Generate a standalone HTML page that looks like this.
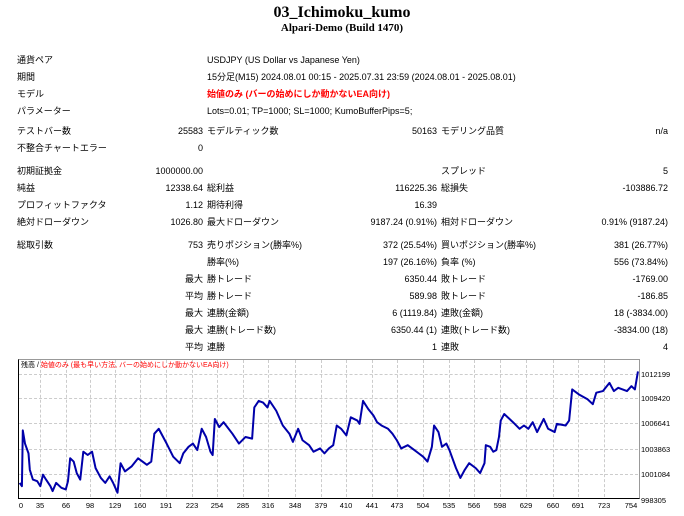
<!DOCTYPE html>
<html><head><meta charset="utf-8"><style>
body{margin:0;width:684px;height:516px;background:#fff;position:relative;overflow:hidden;font-family:"Liberation Sans","Noto Sans CJK JP",sans-serif;font-size:9px;color:#000}
.t{position:absolute;white-space:nowrap;line-height:11px}
.r{position:absolute;white-space:nowrap;line-height:11px;text-align:right}
.red{color:#f00}
.g{position:absolute;border-color:#ccc;border-style:dashed;border-width:0}
</style></head><body>
<div class="t" style="left:0;width:684px;text-align:center;top:4px;font-family:'Liberation Serif',serif;font-weight:bold;font-size:16px;line-height:18px">03_Ichimoku_kumo</div>
<div class="t" style="left:0;width:684px;text-align:center;top:22px;font-family:'Liberation Serif',serif;font-weight:bold;font-size:11px;line-height:12px">Alpari-Demo (Build 1470)</div>

<div class="t" style="left:17px;top:55px">通貨ペア</div><div class="t" style="left:207px;top:55px">USDJPY (US Dollar vs Japanese Yen)</div>
<div class="t" style="left:17px;top:72px">期間</div><div class="t" style="left:207px;top:72px">15分足(M15) 2024.08.01 00:15 - 2025.07.31 23:59 (2024.08.01 - 2025.08.01)</div>
<div class="t" style="left:17px;top:89px">モデル</div><div class="t red" style="left:207px;top:89px;font-weight:bold">始値のみ (バーの始めにしか動かないEA向け)</div>
<div class="t" style="left:17px;top:106px">パラメーター</div><div class="t" style="left:207px;top:106px">Lots=0.01; TP=1000; SL=1000; KumoBufferPips=5;</div>

<div class="t" style="left:17px;top:126px">テストバー数</div><div class="r" style="right:481px;top:126px">25583</div>
<div class="t" style="left:207px;top:126px">モデルティック数</div><div class="r" style="right:247px;top:126px">50163</div>
<div class="t" style="left:441px;top:126px">モデリング品質</div><div class="r" style="right:16px;top:126px">n/a</div>
<div class="t" style="left:17px;top:143px">不整合チャートエラー</div><div class="r" style="right:481px;top:143px">0</div>

<div class="t" style="left:17px;top:166px">初期証拠金</div><div class="r" style="right:481px;top:166px">1000000.00</div>
<div class="t" style="left:441px;top:166px">スプレッド</div><div class="r" style="right:16px;top:166px">5</div>
<div class="t" style="left:17px;top:183px">純益</div><div class="r" style="right:481px;top:183px">12338.64</div>
<div class="t" style="left:207px;top:183px">総利益</div><div class="r" style="right:247px;top:183px">116225.36</div>
<div class="t" style="left:441px;top:183px">総損失</div><div class="r" style="right:16px;top:183px">-103886.72</div>
<div class="t" style="left:17px;top:200px">プロフィットファクタ</div><div class="r" style="right:481px;top:200px">1.12</div>
<div class="t" style="left:207px;top:200px">期待利得</div><div class="r" style="right:247px;top:200px">16.39</div>
<div class="t" style="left:17px;top:217px">絶対ドローダウン</div><div class="r" style="right:481px;top:217px">1026.80</div>
<div class="t" style="left:207px;top:217px">最大ドローダウン</div><div class="r" style="right:247px;top:217px">9187.24 (0.91%)</div>
<div class="t" style="left:441px;top:217px">相対ドローダウン</div><div class="r" style="right:16px;top:217px">0.91% (9187.24)</div>

<div class="t" style="left:17px;top:240px">総取引数</div><div class="r" style="right:481px;top:240px">753</div>
<div class="t" style="left:207px;top:240px">売りポジション(勝率%)</div><div class="r" style="right:247px;top:240px">372 (25.54%)</div>
<div class="t" style="left:441px;top:240px">買いポジション(勝率%)</div><div class="r" style="right:16px;top:240px">381 (26.77%)</div>
<div class="t" style="left:207px;top:257px">勝率(%)</div><div class="r" style="right:247px;top:257px">197 (26.16%)</div>
<div class="t" style="left:441px;top:257px">負率 (%)</div><div class="r" style="right:16px;top:257px">556 (73.84%)</div>
<div class="r" style="right:481px;top:274px">最大</div><div class="t" style="left:207px;top:274px">勝トレード</div><div class="r" style="right:247px;top:274px">6350.44</div>
<div class="t" style="left:441px;top:274px">敗トレード</div><div class="r" style="right:16px;top:274px">-1769.00</div>
<div class="r" style="right:481px;top:291px">平均</div><div class="t" style="left:207px;top:291px">勝トレード</div><div class="r" style="right:247px;top:291px">589.98</div>
<div class="t" style="left:441px;top:291px">敗トレード</div><div class="r" style="right:16px;top:291px">-186.85</div>
<div class="r" style="right:481px;top:308px">最大</div><div class="t" style="left:207px;top:308px">連勝(金額)</div><div class="r" style="right:247px;top:308px">6 (1119.84)</div>
<div class="t" style="left:441px;top:308px">連敗(金額)</div><div class="r" style="right:16px;top:308px">18 (-3834.00)</div>
<div class="r" style="right:481px;top:325px">最大</div><div class="t" style="left:207px;top:325px">連勝(トレード数)</div><div class="r" style="right:247px;top:325px">6350.44 (1)</div>
<div class="t" style="left:441px;top:325px">連敗(トレード数)</div><div class="r" style="right:16px;top:325px">-3834.00 (18)</div>
<div class="r" style="right:481px;top:342px">平均</div><div class="t" style="left:207px;top:342px">連勝</div><div class="r" style="right:247px;top:342px">1</div>
<div class="t" style="left:441px;top:342px">連敗</div><div class="r" style="right:16px;top:342px">4</div>

<!-- chart frame -->
<div style="position:absolute;left:18px;top:359px;width:620px;height:138px;border:1px solid #000;border-top-color:#999;border-right-color:#999"></div>
<div class="g" style="left:19px;width:619px;top:374px;border-top-width:1px"></div>
<div class="g" style="left:19px;width:619px;top:398px;border-top-width:1px"></div>
<div class="g" style="left:19px;width:619px;top:423px;border-top-width:1px"></div>
<div class="g" style="left:19px;width:619px;top:449px;border-top-width:1px"></div>
<div class="g" style="left:19px;width:619px;top:474px;border-top-width:1px"></div>
<div id="vg"></div>
<div class="t" style="left:21px;top:361px;font-size:7px;line-height:9px">残高 / <span class="red">始値のみ (最も早い方法, バーの始めにしか動かないEA向け)</span></div>
<div class="t" style="left:641px;top:369px;font-size:7.5px">1012199</div>
<div class="t" style="left:641px;top:393px;font-size:7.5px">1009420</div>
<div class="t" style="left:641px;top:418px;font-size:7.5px">1006641</div>
<div class="t" style="left:641px;top:444px;font-size:7.5px">1003863</div>
<div class="t" style="left:641px;top:469px;font-size:7.5px">1001084</div>
<div class="t" style="left:641px;top:495px;font-size:7.5px">998305</div>
<div id="xl"></div>
<svg style="position:absolute;left:0;top:355px" width="684" height="161" viewBox="0 0 1560 491" preserveAspectRatio="none">
<polyline fill="none" stroke="#0000aa" stroke-width="2" vector-effect="non-scaling-stroke" stroke-linejoin="round" points="45,390 50,400 52,230 57,270 65,300 68,350 75,380 85,385 92,400 98,365 105,380 115,400 120,415 128,390 140,405 150,410 155,385 160,315 168,325 175,360 183,380 190,295 200,305 210,295 218,345 230,375 240,390 250,370 258,390 268,420 275,330 285,355 300,340 315,315 325,325 335,335 345,325 352,240 362,225 380,270 395,310 410,330 418,300 430,280 440,270 450,290 460,225 470,250 480,295 485,305 490,195 500,220 510,205 530,240 545,270 560,250 575,255 580,160 590,140 600,145 610,160 615,140 630,170 645,215 660,240 668,265 680,225 690,260 705,275 715,295 730,285 740,300 750,285 760,275 768,215 778,225 790,245 800,190 815,200 820,210 828,140 840,165 852,185 860,205 870,215 885,225 895,240 905,260 915,285 930,275 945,290 955,300 965,310 975,325 985,280 990,215 1000,235 1008,280 1018,270 1025,290 1040,345 1050,375 1060,350 1070,330 1085,345 1095,360 1105,330 1108,275 1118,280 1125,295 1132,290 1138,250 1142,200 1150,180 1170,205 1185,225 1195,215 1205,225 1215,205 1225,235 1240,195 1250,225 1265,235 1270,210 1290,215 1298,200 1305,105 1320,120 1340,135 1352,150 1360,115 1375,110 1390,85 1400,110 1410,100 1430,110 1440,95 1448,105 1455,50"/>
</svg>
<script>
var xs=[21,40,66,90,115,140,166,192,217,243,268,295,321,346,372,397,423,449,474,500,526,553,578,604,631];
var ls=[0,35,66,98,129,160,191,223,254,285,316,348,379,410,441,473,504,535,566,598,629,660,691,723,754];
var h='',l='';
for(var i=0;i<xs.length;i++){
 if(i>0&&i<xs.length-1)h+='<div class="g" style="left:'+xs[i]+'px;top:360px;height:137px;border-left-width:1px"></div>';
 l+='<div class="t" style="left:'+(xs[i]-15)+'px;width:30px;text-align:center;top:500px;font-size:7.5px">'+ls[i]+'</div>';
}
document.getElementById('vg').outerHTML=h;document.getElementById('xl').outerHTML=l;
</script>
</body></html>
